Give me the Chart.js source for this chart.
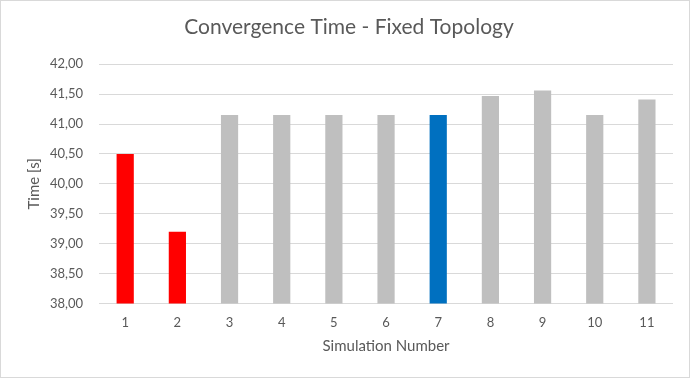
<!DOCTYPE html>
<html>
<head>
<meta charset="utf-8">
<script src="https://cdn.jsdelivr.net/npm/chart.js@4/dist/chart.umd.min.js"></script>
<style>
  html, body { margin: 0; padding: 0; background: #fff; }
  .wrap { width: 688px; height: 376px; border: 1px solid #d9d9d9; }
</style>
</head>
<body>
<div class="wrap"><canvas id="convChart" width="688" height="376"></canvas></div>
<script>
// Convergence time per simulation run
const simulations = ['1', '2', '3', '4', '5', '6', '7', '8', '9', '10', '11'];
const times = [40.50, 39.20, 41.15, 41.15, 41.15, 41.15, 41.15, 41.47, 41.56, 41.15, 41.41];
const barColors = ['#ff0000', '#ff0000', '#bfbfbf', '#bfbfbf', '#bfbfbf', '#bfbfbf',
                   '#0070c0', '#bfbfbf', '#bfbfbf', '#bfbfbf', '#bfbfbf'];
const yMin = 38, yMax = 42, yStep = 0.5;

const textColor = '#595959';
const font = 'Lato, "Open Sans", sans-serif';

const ctx = document.getElementById('convChart').getContext('2d');
new Chart(ctx, {
    type: 'bar',
    data: {
        labels: simulations,
        datasets: [{
            data: times,
            backgroundColor: barColors,
            borderWidth: 0,
            categoryPercentage: 1,
            barPercentage: 0.33,
        }]
    },
    options: {
        responsive: false,
        animation: false,
        layout: { padding: { left: 24, right: 16, top: 14, bottom: 22 } },
        plugins: {
            legend: { display: false },
            tooltip: { enabled: false },
            title: {
                display: true,
                text: 'Convergence Time - Fixed Topology',
                color: textColor,
                font: { family: font, size: 21, weight: 'normal' },
                padding: { top: 0, bottom: 24 }
            }
        },
        scales: {
            x: {
                grid: { display: false },
                border: { display: false },
                ticks: { color: textColor, font: { family: font, size: 13 }, padding: 4 },
                title: {
                    display: true,
                    text: 'Simulation Number',
                    color: textColor,
                    font: { family: font, size: 15 },
                    padding: { top: 2, bottom: 0 }
                }
            },
            y: {
                min: yMin,
                max: yMax,
                grid: { color: '#d9d9d9', drawTicks: false },
                border: { display: false },
                ticks: {
                    stepSize: yStep,
                    color: textColor,
                    font: { family: font, size: 13 },
                    padding: 16,
                    callback: v => v.toFixed(2).replace('.', ',')
                },
                title: {
                    display: true,
                    text: 'Time [s]',
                    color: textColor,
                    font: { family: font, size: 15 },
                    padding: { top: 0, bottom: -9 }
                }
            }
        }
    }
});
</script>
</body>
</html>
